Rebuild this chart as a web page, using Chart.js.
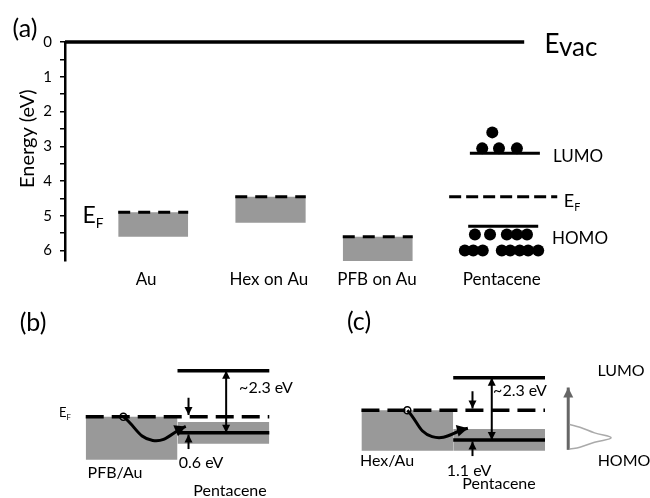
<!DOCTYPE html>
<html>
<head>
<meta charset="utf-8">
<script src="https://cdn.jsdelivr.net/npm/chart.js@4.4.1/dist/chart.umd.min.js"></script>
<style>
  body { margin: 0; background: #fff; }
  #wrap { position: relative; width: 650px; height: 498px; font-family: Lato, sans-serif; color: #000; overflow: hidden; }
  canvas { position: absolute; }
  .lbl { position: absolute; transform: translate(-50%, -50%); white-space: nowrap; line-height: 1; }
  .lbl sub { font-size: 0.6em; vertical-align: -0.35em; }
</style>
</head>
<body>
<div id="wrap">
  <canvas id="chartA" width="650" height="290" style="left:0;top:0"></canvas>
  <canvas id="chartB" width="325" height="208" style="left:0;top:290px"></canvas>
  <canvas id="chartC" width="325" height="208" style="left:325px;top:290px"></canvas>

  <div class="lbl" style="left:25px;top:27px;font-size:25px">(a)</div>
  <div class="lbl" style="left:571px;top:43px;font-size:26px">E<span style="position:relative;top:3px">vac</span></div>
  <div class="lbl" style="left:93px;top:216px;font-size:23px">E<sub>F</sub></div>
  <div class="lbl" style="left:578px;top:155px;font-size:17px">LUMO</div>
  <div class="lbl" style="left:572px;top:202px;font-size:18px">E<sub>F</sub></div>
  <div class="lbl" style="left:580px;top:237px;font-size:17px">HOMO</div>

  <div class="lbl" style="left:33px;top:321px;font-size:25px">(b)</div>
  <div class="lbl" style="left:65px;top:414px;font-size:13px">E<sub>F</sub></div>
  <div class="lbl" style="left:266px;top:387px;font-size:16px">~2.3 eV</div>
  <div class="lbl" style="left:201px;top:462px;font-size:16px">0.6 eV</div>
  <div class="lbl" style="left:115px;top:472px;font-size:16px">PFB/Au</div>
  <div class="lbl" style="left:230px;top:490px;font-size:16px">Pentacene</div>

  <div class="lbl" style="left:359px;top:320px;font-size:25px">(c)</div>
  <div class="lbl" style="left:520px;top:390px;font-size:16px">~2.3 eV</div>
  <div class="lbl" style="left:469px;top:470px;font-size:16px">1.1 eV</div>
  <div class="lbl" style="left:387px;top:460px;font-size:16px">Hex/Au</div>
  <div class="lbl" style="left:499px;top:483px;font-size:16px">Pentacene</div>
  <div class="lbl" style="left:621px;top:370px;font-size:16px">LUMO</div>
  <div class="lbl" style="left:624px;top:460px;font-size:16px">HOMO</div>
</div>
<script>
Chart.defaults.font.family = 'Lato'
Chart.defaults.color = '#000'

// (a) energies in eV below the vacuum level
const materials = ['Au', 'Hex on Au', 'PFB on Au', 'Pentacene']
const fermiLevel = [4.9, 4.45, 5.6, 4.45]
const metalBottom = [5.6, 5.2, 6.3]
const pentaceneLumo = 3.2
const pentaceneHomo = 5.3
const vacuumLevel = 0
const lumoElectrons = [
    { x: 7.45, y: 3.06 }, { x: 7.75, y: 3.06 }, { x: 8.07, y: 3.06 }, { x: 7.63, y: 2.6 }
]
const homoElectrons = [
    { x: 7.32, y: 5.54 }, { x: 7.59, y: 5.54 }, { x: 7.89, y: 5.54 }, { x: 8.07, y: 5.54 }, { x: 8.25, y: 5.54 },
    { x: 7.14, y: 6.0 }, { x: 7.29, y: 6.0 }, { x: 7.46, y: 6.0 }, { x: 7.8, y: 6.0 },
    { x: 7.95, y: 6.0 }, { x: 8.12, y: 6.0 }, { x: 8.27, y: 6.0 }, { x: 8.45, y: 6.0 }
]

// (b), (c) energies relative to E_F
const contacts = ['PFB/Au', 'Hex/Au']
const holeBarrier = [0.6, 1.1]
const transportGap = [2.3, 2.3]
const metalDepth = [1.6, 1.5]
const homoHalfWidth = 0.4
const hopPath = [
    [{ x: 0.41, y: 0 }, { x: 0.73, y: 0.88 }, { x: 1.09, y: 0.36 }],
    [{ x: 0.5, y: 0 }, { x: 0.77, y: 0.98 }, { x: 1.16, y: 0.67 }]
]
const dosCurve = [
    { x: 2.27, y: 0.53 }, { x: 2.38, y: 0.63 }, { x: 2.54, y: 0.84 }, { x: 2.72, y: 1.02 },
    { x: 2.54, y: 1.19 }, { x: 2.38, y: 1.37 }, { x: 2.27, y: 1.44 }
]

// layout of panel (a), in x-axis units
const slotA = [[0.95, 2.2], [3.04, 4.3], [4.96, 6.21]]
const labelX = [1.45, 3.64, 5.57, 7.8]

const arrows = {
    id: 'arrows',
    afterDatasetsDraw(chart) {
        const ctx = chart.ctx
        chart.data.datasets.forEach((ds, i) => {
            if (!ds.heads) return
            const pts = chart.getDatasetMeta(i).data
            const n = pts.length
            ds.heads.forEach(which => {
                const tip = which === 'end' ? pts[n - 1] : pts[0]
                const from = which === 'end' ? pts[n - 2] : pts[1]
                const ang = Math.atan2(tip.y - from.y, tip.x - from.x)
                const L = ds.headLen || 8
                const W = ds.headWidth || 4
                const bx = tip.x - L * Math.cos(ang)
                const by = tip.y - L * Math.sin(ang)
                ctx.save()
                ctx.fillStyle = ds.borderColor || '#000'
                ctx.beginPath()
                ctx.moveTo(tip.x, tip.y)
                ctx.lineTo(bx + W * Math.sin(ang), by - W * Math.cos(ang))
                ctx.lineTo(bx - W * Math.sin(ang), by + W * Math.cos(ang))
                ctx.closePath()
                ctx.fill()
                ctx.restore()
            })
        })
    }
}

function seg(x1, x2, y) {
    return [{ x: x1, y: y }, { x: x2, y: y }]
}

const dsA = [
    { data: seg(0, 8.2, vacuumLevel), borderColor: '#000', borderWidth: 3.5 }
]
slotA.forEach((s, i) => {
    dsA.push({
        data: seg(s[0], s[1], fermiLevel[i]),
        borderColor: '#000', borderWidth: 3, borderDash: [12, 8],
        fill: { value: metalBottom[i] }, backgroundColor: '#999999'
    })
})
dsA.push({ data: seg(6.86, 8.79, fermiLevel[3]), borderColor: '#000', borderWidth: 3, borderDash: [12, 5] })
dsA.push({ data: seg(7.23, 8.48, pentaceneLumo), borderColor: '#000', borderWidth: 3 })
dsA.push({ data: seg(7.2, 8.45, pentaceneHomo), borderColor: '#000', borderWidth: 3 })
dsA.push({ data: lumoElectrons, showLine: false, pointRadius: 6, pointBackgroundColor: '#000', pointBorderWidth: 0 })
dsA.push({ data: homoElectrons, showLine: false, pointRadius: 6, pointBackgroundColor: '#000', pointBorderWidth: 0 })

new Chart(document.getElementById('chartA'), {
    type: 'line',
    data: { datasets: dsA },
    plugins: [arrows],
    options: {
        responsive: false,
        animation: false,
        events: [],
        layout: { padding: { top: 42, right: 25, left: 0, bottom: 0 } },
        elements: { point: { radius: 0 }, line: { tension: 0 } },
        datasets: { line: { clip: false } },
        plugins: { legend: { display: false }, tooltip: { enabled: false } },
        scales: {
            x: {
                type: 'linear', min: 0, max: 10,
                grid: { display: false, drawTicks: false },
                border: { display: false },
                afterBuildTicks: s => { s.ticks = labelX.map(v => ({ value: v })) },
                afterFit: s => { s.height = 29 },
                ticks: { padding: 8, font: { size: 17 }, callback: (v, i) => materials[i] }
            },
            y: {
                reverse: true, min: 0, max: 6.3,
                afterFit: s => { s.width = 65 },
                grid: { drawOnChartArea: false, drawTicks: true, tickLength: 5, color: '#000', lineWidth: 1.5 },
                border: { display: true, color: '#000', width: 2.5 },
                // leading spaces lift the rotated title a little, as in the original
                title: { display: true, text: '\u00a0\u00a0\u00a0\u00a0\u00a0Energy (eV)', font: { size: 20 }, padding: { top: 16, bottom: 0 } },
                ticks: {
                    stepSize: 0.5, includeBounds: false, autoSkip: false, padding: 8,
                    font: { size: 15 },
                    callback: v => Number.isInteger(v) ? v : ''
                }
            }
        }
    }
})

function bandChart(id, k, xr, yr, gapX, markX) {
    const ef = 0
    const homo = holeBarrier[k]
    const lumo = homo - transportGap[k]
    // gray bands get a higher order so they sit under the lines
    const sets = [
        { data: seg(0, 1, ef), order: 5, borderWidth: 0, fill: { value: metalDepth[k] }, backgroundColor: '#999999' },
        { data: seg(1, 2, homo - homoHalfWidth), order: 5, borderWidth: 0, fill: { value: homo + homoHalfWidth }, backgroundColor: '#999999' },
        { data: seg(0, 2, ef), borderColor: '#000', borderWidth: 3.5, borderDash: [18, 8] },
        { data: seg(1, 2, lumo), borderColor: '#000', borderWidth: 3.5 },
        { data: seg(1, 2, homo), borderColor: '#000', borderWidth: 3.5 },
        { data: [{ x: gapX, y: lumo }, { x: gapX, y: homo }], borderColor: '#000', borderWidth: 2, heads: ['start', 'end'] },
        { data: [{ x: markX, y: ef - 0.7 }, { x: markX, y: ef - 0.06 }], borderColor: '#000', borderWidth: 2, heads: ['end'] },
        { data: [{ x: markX, y: homo + 0.6 }, { x: markX, y: homo + 0.06 }], borderColor: '#000', borderWidth: 2, heads: ['end'] },
        { data: hopPath[k], borderColor: '#000', borderWidth: 3, tension: 0.45, heads: ['end'], headLen: 11, headWidth: 6 },
        { data: [hopPath[k][0]], showLine: false, pointRadius: 3.5, pointBackgroundColor: '#fff', pointBorderColor: '#000', pointBorderWidth: 1.5 }
    ]
    if (k === 1) {
        sets.push({ data: dosCurve, borderColor: '#aaaaaa', borderWidth: 1.5, tension: 0.4 })
        sets.push({ data: [{ x: 2.253, y: 1.47 }, { x: 2.253, y: -0.84 }], borderColor: '#666666', borderWidth: 3, heads: ['end'], headLen: 10, headWidth: 5 })
    }
    new Chart(document.getElementById(id), {
        type: 'line',
        data: { datasets: sets },
        plugins: [arrows],
        options: {
            responsive: false,
            animation: false,
            events: [],
            layout: { padding: 0 },
            elements: { point: { radius: 0 }, line: { tension: 0 } },
            datasets: { line: { clip: false } },
            plugins: { legend: { display: false }, tooltip: { enabled: false } },
            scales: {
                x: { type: 'linear', display: false, min: xr[0], max: xr[1] },
                y: { display: false, reverse: true, min: yr[0], max: yr[1] }
            }
        }
    })
}

bandChart('chartB', 0, [-0.874, 2.547], [-4.49, 2.81], 1.53, 1.12)
bandChart('chartC', 1, [-0.337, 3.084], [-4.25, 3.05], 1.42, 1.21)
</script>
</body>
</html>
